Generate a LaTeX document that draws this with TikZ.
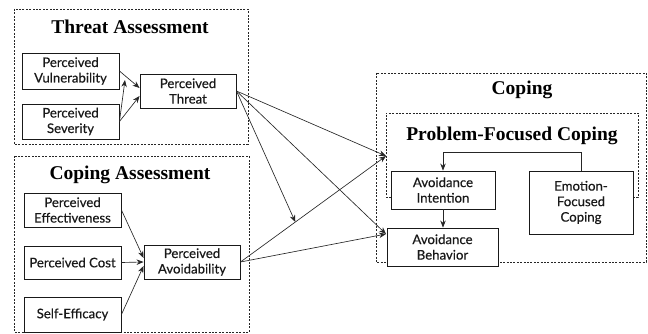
\documentclass[tikz,border=0pt]{standalone}
\usepackage{fontspec}
\setmainfont{Liberation Serif}
\newfontfamily\latofont[FakeBold=0.35]{Lato}
\usetikzlibrary{arrows.meta}
\begin{document}
\begin{tikzpicture}[x=1pt,y=-1pt,
  grp/.style={draw=black!85, line width=0.7pt, dash pattern=on 2pt off 1.4pt},
  ttl/.style={font=\fontsize{19.5}{22}\selectfont\bfseries, inner sep=0pt},
  box/.style={draw=black!90, line width=0.9pt, fill=white, align=center, inner sep=1pt,
    font=\latofont\fontsize{13.2}{15.5}\selectfont, text=black!90},
  arr/.style={draw=black!85, line width=0.65pt, -{Stealth[length=7pt,width=5.5pt]}}]
\useasboundingbox (0,0) rectangle (648,334);
% groups
\draw[grp] (14,9) rectangle (248,144);
\draw[grp] (14,156) rectangle (249,332);
\draw[grp] (376,73) rectangle (646,262);
\draw[grp] (391,197) -- (386,197) -- (386,113) -- (638,113) -- (638,197) -- (633,197);
% titles
\node[ttl] (tA) at (130,27) {Threat Assessment};
\node[ttl] (cA) at (130,175) {Coping Assessment};
\node[ttl] (cp) at (522,90) {Coping};
\node[ttl] (pfc) at (512,136) {Problem-Focused Coping};
% nodes
\node[box, minimum width=97pt, minimum height=36pt] (vul) at (70.5,71) {Perceived\\Vulnerability};
\node[box, minimum width=97pt, minimum height=35pt] (sev) at (70.5,121.5) {Perceived\\Severity};
\node[box, minimum width=96pt, minimum height=34pt] (thr) at (188,91) {Perceived\\Threat};
\node[box, minimum width=97pt, minimum height=34pt] (eff) at (72.5,210) {Perceived\\Effectiveness};
\node[box, minimum width=97pt, minimum height=33pt] (cost) at (72.5,262.5) {Perceived Cost};
\node[box, minimum width=97pt, minimum height=35pt] (se) at (72.5,314.5) {Self-Efficacy};
\node[box, minimum width=96pt, minimum height=34pt] (avd) at (192,262) {Perceived\\Avoidability};
\node[box, minimum width=104pt, minimum height=38pt] (int) at (443,190) {Avoidance\\Intention};
\node[box, minimum width=104pt, minimum height=63pt] (emo) at (581,202.5) {Emotion-\\Focused\\Coping};
\node[box, minimum width=111pt, minimum height=38pt] (beh) at (442.5,247) {Avoidance\\Behavior};
% coordinates
\coordinate (m1) at (125,80);
\coordinate (pfcin) at (386,156);
\coordinate (behin) at (386,234);
% threat assessment arrows
\draw[arr] (vul.east) -- ([yshift=3pt]thr.west);
\draw[arr] (sev.east) -- ([yshift=-5pt]thr.west);
\draw[arr] (sev.east) -- (m1);
% coping assessment arrows
\draw[arr] (eff.east) -- ([yshift=4pt]avd.west);
\draw[arr] (cost.east) -- (avd.west);
\draw[arr] (se.east) -- ([yshift=-4pt]avd.west);
% to coping
\draw[arr] (thr.east) -- (pfcin);
\draw[arr] (thr.east) -- (behin);
\draw[arr] (avd.east) -- coordinate[pos=0.377] (m2) (pfcin);
\draw[arr] (avd.east) -- (behin);
\draw[arr] (thr.east) -- (m2);
% inside coping
\draw[arr] (emo.north) -- ++(0,-18) -| (int.north);
\draw[arr] (int.south) -- (int.south |- beh.north);
\end{tikzpicture}
\end{document}
